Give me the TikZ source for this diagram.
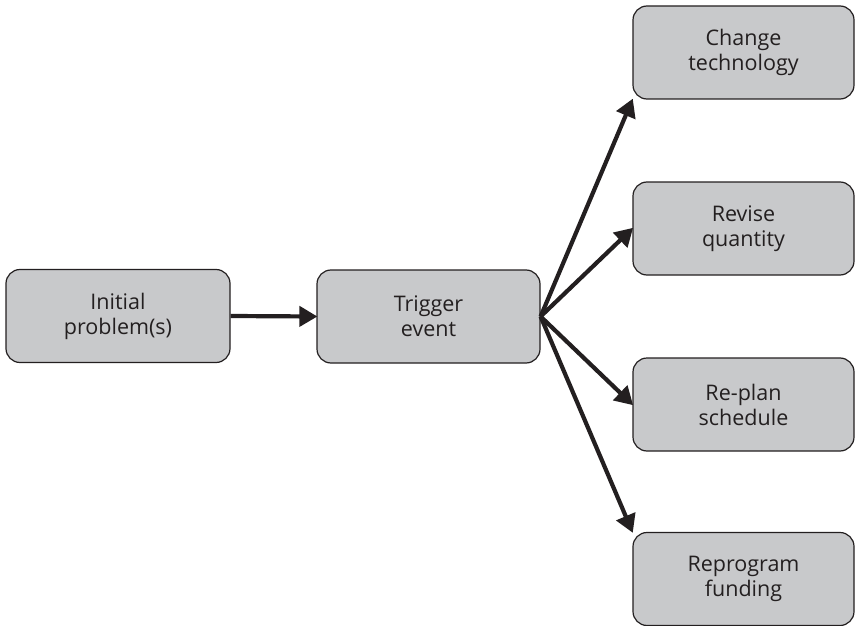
\documentclass[tikz,border=0pt]{standalone}
\usepackage{fontspec}
\setmainfont{Open Sans}
\usetikzlibrary{arrows.meta}
\definecolor{boxfill}{HTML}{C8C9CB}
\definecolor{ink}{HTML}{231F20}
\tikzset{
  box/.style={draw=ink, fill=boxfill, line width=1.2pt, rounded corners=14pt,
    minimum height=93pt, align=center, inner sep=0pt,
    font=\fontsize{21.5pt}{25pt}\selectfont, text=ink},
  conn/.style={draw=ink, line width=4.2pt, -{Triangle[length=18pt,width=20pt]}, shorten >=-1pt}
}
\begin{document}
\begin{tikzpicture}[x=1pt,y=-1pt]
\useasboundingbox (0,0) rectangle (855,626);
\node[box, minimum width=224pt] (init) at (118,316) {Initial\\problem(s)};
\node[box, minimum width=223pt] (trig) at (428.5,316.5) {Trigger\\event};
\node[box, minimum width=221pt] (tech) at (743.5,52.5) {Change\\technology};
\node[box, minimum width=221pt] (qty) at (743.5,228.5) {Revise\\quantity};
\node[box, minimum width=221pt] (sched) at (743.5,404.5) {Re-plan\\schedule};
\node[box, minimum width=221pt] (fund) at (743.5,579) {Reprogram\\funding};
\draw[conn] (init.east) -- (trig.west);
\draw[conn] (trig.east) -- (tech.south west);
\draw[conn] (trig.east) -- (qty.west);
\draw[conn] (trig.east) -- (sched.west);
\draw[conn] (trig.east) -- (fund.north west);
\end{tikzpicture}
\end{document}
